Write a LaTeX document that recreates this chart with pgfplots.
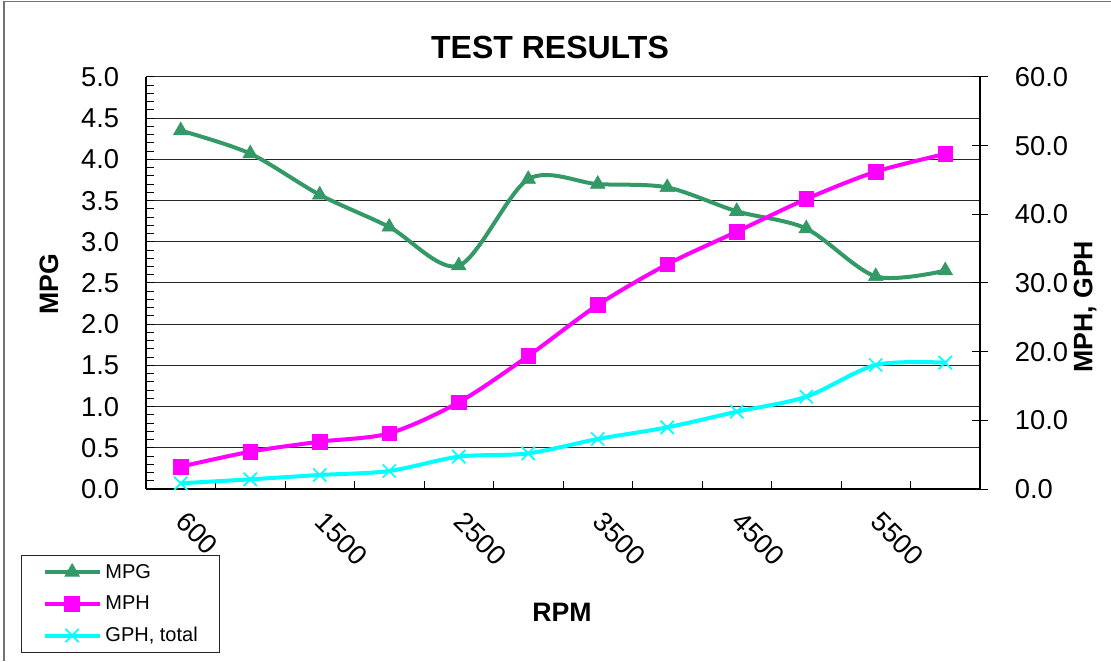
\documentclass[border=0pt]{standalone}
\usepackage{fontspec}
\setmainfont{Liberation Sans}
\usepackage{pgfplots}
\pgfplotsset{compat=1.18}
\definecolor{mpgc}{RGB}{51,153,102}
\definecolor{mphc}{RGB}{255,0,255}
\definecolor{gphc}{RGB}{0,255,255}
\begin{document}
\begin{tikzpicture}
\path[use as bounding box] (0,0) rectangle (833.25pt,495.75pt);
\draw[black!55, line width=0.9pt] (3pt,0) -- (3pt,494.6pt) -- (833.25pt,494.6pt);
\pgfplotsset{
  common/.style={
    at={(109.5pt,129pt)}, anchor=south west,
    scale only axis, width=625.5pt, height=309pt,
    xmin=-0.5, xmax=11.5,
    /pgf/number format/assume math mode=true,
    /pgf/number format/fixed, /pgf/number format/fixed zerofill,
    /pgf/number format/precision=1,
    tick label style={font=\fontsize{20.5}{20.5}\selectfont},
    axis line style={line width=1.1pt, black},
    every tick/.style={black, line width=0.75pt},
  },
  mpgstyle/.style={color=mpgc, line width=3pt, smooth, mark=triangle*, mark size=6.3pt, mark options={solid, fill=mpgc, line width=0.5pt}},
  mphstyle/.style={color=mphc, line width=3pt, smooth, mark=square*, mark size=5.5pt, mark options={solid, fill=mphc, line width=0.5pt}},
  gphstyle/.style={color=gphc, line width=3pt, smooth, mark=x, mark size=7pt, mark options={solid, line width=1.3pt}},
}
\begin{axis}[common,
  axis x line*=bottom, axis y line*=left,
  ymin=0, ymax=5,
  ytick={0,0.5,1,1.5,2,2.5,3,3.5,4,4.5,5},
  minor y tick num=4,
  ymajorgrids, major grid style={black!85, line width=0.75pt},
  xtick={0,2,4,6,8,10},
  xticklabels={600,1500,2500,3500,4500,5500},
  minor xtick={-0.5,0.5,1.5,2.5,3.5,4.5,5.5,6.5,7.5,8.5,9.5,10.5,11.5},
  major x tick style={draw=none},
  tick align=inside, major tick length=6pt, minor tick length=6pt,
  yticklabel style={anchor=east, inner sep=0pt, xshift=-20pt},
  xticklabel style={xshift=5.25pt, yshift=-15.75pt, rotate=-45, anchor=north west, inner sep=0pt},
]
\addplot[mpgstyle] coordinates {
 (0,4.35) (1,4.07) (2,3.57) (3,3.18) (4,2.71) (5,3.76)
 (6,3.70) (7,3.66) (8,3.37) (9,3.16) (10,2.58) (11,2.65)};
\end{axis}
\begin{axis}[common,
  axis y line*=right, axis x line=none,
  ymin=0, ymax=60,
  ytick={0,10,20,30,40,50,60},
  tick align=center, major tick length=12pt,
  yticklabel style={anchor=west, inner sep=0pt, xshift=20pt},
  legend cell align=left,
  legend style={at={(rel axis cs:-0.1499,-0.1602)}, anchor=north west,
    draw=black!85, line width=0.75pt, fill=white,
    font=\fontsize{15}{15}\selectfont,
    inner xsep=16pt, inner ysep=0.5pt, column sep=3pt,
    nodes={inner sep=0pt, minimum height=23.8pt}},
  legend image code/.code={\draw[mark repeat=2, mark phase=2] plot coordinates {(0pt,0pt) (20.5pt,0pt) (41pt,0pt)};},
]
\addlegendimage{mpgstyle}
\addlegendentry{MPG}
\addplot[mphstyle] coordinates {
 (0,3.25) (1,5.43) (2,6.89) (3,8.11) (4,12.62) (5,19.37)
 (6,26.8) (7,32.72) (8,37.47) (9,42.23) (10,46.21) (11,48.79)};
\addlegendentry{MPH}
\addplot[gphstyle] coordinates {
 (0,0.83) (1,1.41) (2,2.04) (3,2.62) (4,4.71) (5,5.19)
 (6,7.28) (7,8.98) (8,11.26) (9,13.44) (10,18.06) (11,18.4)};
\addlegendentry{GPH, total}
\end{axis}
\node[font=\fontsize{24}{24}\selectfont\bfseries] at (412.5pt,460.5pt) {TEST RESULTS};
\node[font=\fontsize{20}{20}\selectfont\bfseries, rotate=90] at (36.75pt,282.75pt) {MPG};
\node[font=\fontsize{20}{20}\selectfont\bfseries] at (421.5pt,36.75pt) {RPM};
\node[font=\fontsize{20}{20}\selectfont\bfseries, rotate=90] at (813.75pt,265.7pt) {MPH, GPH};
\end{tikzpicture}
\end{document}
